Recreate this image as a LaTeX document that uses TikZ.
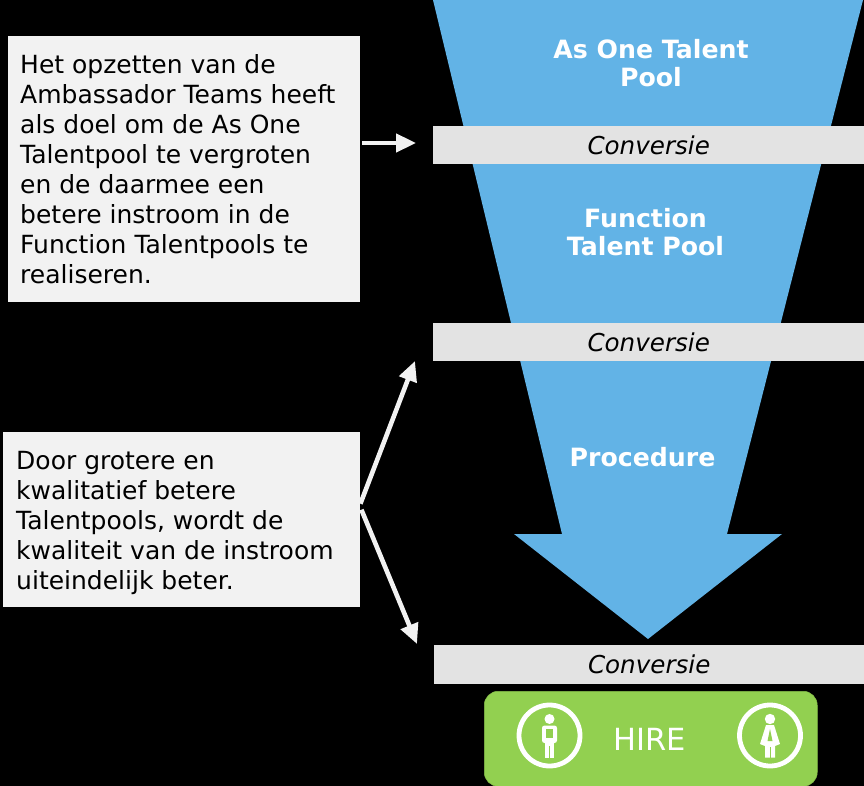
\documentclass[tikz,border=0pt]{standalone}
\usepackage{fontspec}
\setmainfont{DejaVu Sans}
\usetikzlibrary{arrows.meta}
\definecolor{funnel}{HTML}{62B3E6}
\definecolor{band}{HTML}{E3E3E3}
\definecolor{boxc}{HTML}{F2F2F2}
\definecolor{hire}{HTML}{92D050}
\tikzset{x=1pt,y=-1pt,
 textbox/.style={fill=boxc,inner sep=0pt,anchor=north west},
 bandbox/.style={fill=band,minimum width=431pt,minimum height=38.5pt,inner sep=0pt,anchor=north west,font=\fontsize{24.6pt}{28pt}\selectfont\itshape,text=black},
 funneltext/.style={text=white,align=center,font=\fontsize{25.2pt}{28pt}\selectfont\bfseries},
 para/.style={align=left,text=black,anchor=north west,inner sep=0pt,font=\fontsize{25pt}{30pt}\selectfont},
 pointer/.style={draw=boxc,line width=4.6pt,-{Triangle[length=20pt,width=18pt]}},
 ring/.style={draw=white,line width=4.8pt,fill=none,circle,minimum size=61pt,inner sep=0pt}
}
\begin{document}
\begin{tikzpicture}
\useasboundingbox (0,0) rectangle (864,786);
\fill[black] (0,0) rectangle (864,786);
% funnel
\fill[funnel] (433,0) -- (863,0) -- (727,534) -- (782,534) -- (648,639) -- (514,534) -- (562,534) -- cycle;
% bands
\node[bandbox] (b1) at (433,125.5) {Conversie};
\node[bandbox,minimum height=38pt] (b2) at (433,323) {Conversie};
\node[bandbox,minimum width=430pt] (b3) at (434,645) {Conversie};
% funnel labels
\node[funneltext] (t1) at (651,63) {As One Talent\\Pool};
\node[funneltext] (t2) at (645.5,232) {Function\\Talent Pool};
\node[funneltext] (t3) at (642.5,457) {Procedure};
% text boxes
\node[textbox,minimum width=352pt,minimum height=266pt] (box1) at (8,36) {};
\node[para] (p1) at (20,54) {Het opzetten van de\\Ambassador Teams heeft\\als doel om de As One\\Talentpool te vergroten\\en de daarmee een\\betere instroom in de\\Function Talentpools te\\realiseren.};
\node[textbox,minimum width=357pt,minimum height=175pt] (box2) at (3,432) {};
\node[para] (p2) at (16,451) {Door grotere en\\kwalitatief betere\\Talentpools, wordt de\\kwaliteit van de instroom\\uiteindelijk beter.};
% arrows
\coordinate (a1) at (416,143);
\coordinate (a2) at (415,361);
\coordinate (a3) at (417,644);
\draw[pointer] (box1.east |- a1) ++(2,0) -- (a1);
\draw[pointer] (box2.east) ++(0,-16) -- (a2);
\draw[pointer] (box2.east) ++(1,-10) -- (a3);
% hire
\node[fill=hire,draw=hire!90!black,line width=.5pt,rounded corners=14pt,minimum width=333pt,minimum height=95pt,inner sep=0pt,anchor=north west] (hirebox) at (484,691) {};
\node[text=white,font=\fontsize{30.5pt}{34pt}\selectfont] (hiretxt) at (650,739) {HIRE};
\node[ring] (man) at (549.5,735.5) {};
\node[ring] (woman) at (770,735.5) {};
% man icon
\fill[white] (549.5,719) circle (5);
\fill[white,rounded corners=2.5pt] (542,725.5) rectangle (557,743);
\fill[hire] (546,729) rectangle (553,741);
\fill[white] (545,738) rectangle (554,757.5);
\fill[hire] (549,746) rectangle (550.2,758);
% woman icon
\fill[white] (770,719) circle (5.2);
\fill[white] (766,725) -- (774,725) -- (780,744) -- (775,746) -- (775,757.5) -- (765,757.5) -- (765,746) -- (760,744) -- cycle;
\fill[hire] (770,729) -- (772.5,741) -- (767.5,741) -- cycle;
\fill[hire] (769.6,747) rectangle (770.6,758);
\end{tikzpicture}
\end{document}
